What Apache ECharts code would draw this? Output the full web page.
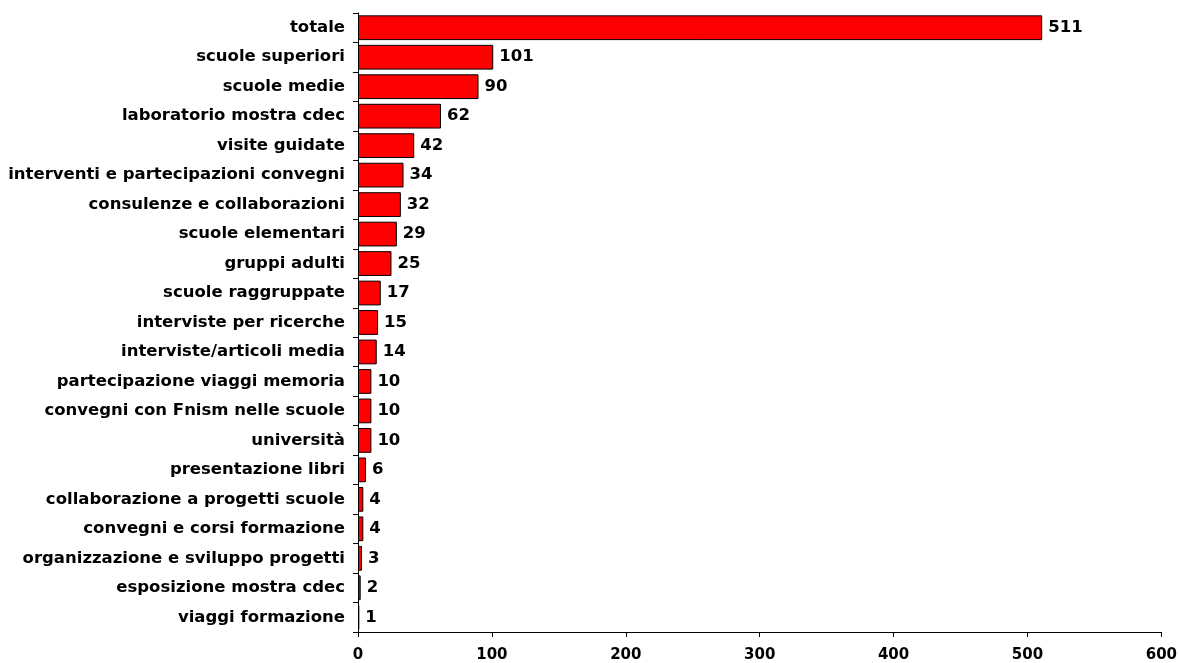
<!DOCTYPE html>
<html>
<head>
<meta charset="utf-8">
<script src="https://cdn.jsdelivr.net/npm/echarts@6/dist/echarts.min.js"></script>
<style>
  html, body { margin: 0; padding: 0; background: #fff; }
  #chart { width: 1180px; height: 663px; }
</style>
</head>
<body>
<div id="chart"></div>
<script>
const categories = [
  "totale", "scuole superiori", "scuole medie", "laboratorio mostra cdec",
  "visite guidate", "interventi e partecipazioni convegni",
  "consulenze e collaborazioni", "scuole elementari", "gruppi adulti",
  "scuole raggruppate", "interviste per ricerche", "interviste/articoli media",
  "partecipazione viaggi memoria", "convegni con Fnism nelle scuole",
  "università", "presentazione libri", "collaborazione a progetti scuole",
  "convegni e corsi formazione", "organizzazione e sviluppo progetti",
  "esposizione mostra cdec", "viaggi formazione"
];
const values = [511, 101, 90, 62, 42, 34, 32, 29, 25, 17, 15, 14, 10, 10, 10, 6, 4, 4, 3, 2, 1];
const xTicks = [0, 100, 200, 300, 400, 500, 600];

const font = "'DejaVu Sans', Verdana, sans-serif";
const chart = echarts.init(document.getElementById("chart"));

chart.setOption({
  animation: false,
  grid: { left: 358, right: 18, top: 13, bottom: 31, containLabel: false },
  xAxis: {
    type: "value",
    min: xTicks[0],
    max: xTicks[xTicks.length - 1],
    interval: 100,
    splitLine: { show: false },
    axisLine: { show: true, lineStyle: { color: "#000", width: 1 } },
    axisTick: { show: true, length: 5, lineStyle: { color: "#000" } },
    axisLabel: { color: "#000", fontFamily: font, fontWeight: "bold", fontSize: 15, margin: 16 }
  },
  yAxis: {
    type: "category",
    inverse: true,
    data: categories,
    axisLine: { show: true, lineStyle: { color: "#000", width: 1 } },
    axisTick: { show: true, length: 5, alignWithLabel: false, lineStyle: { color: "#000" } },
    axisLabel: { color: "#000", fontFamily: font, fontWeight: "bold", fontSize: 16.5, margin: 13 }
  },
  series: [{
    type: "bar",
    data: values,
    barCategoryGap: "16%",
    itemStyle: { color: "#ff0000", borderColor: "#000", borderWidth: 1 },
    label: {
      show: true,
      position: "right",
      distance: 6,
      color: "#000",
      fontFamily: font,
      fontWeight: "bold",
      fontSize: 16.5
    }
  }]
});
</script>
</body>
</html>
